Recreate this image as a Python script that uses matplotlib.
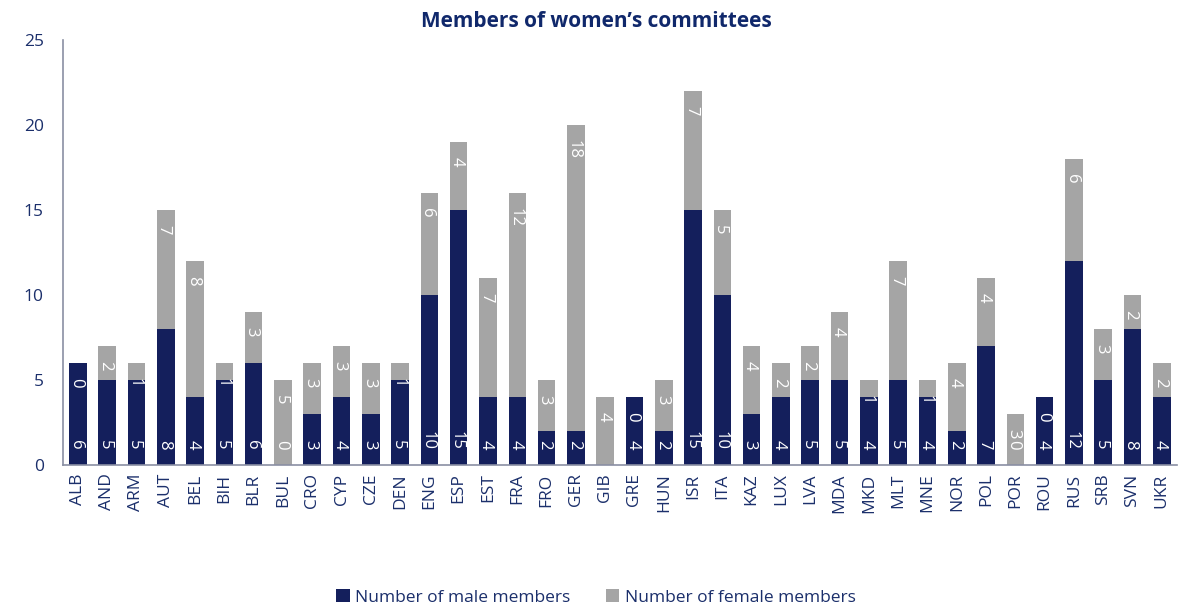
import matplotlib.pyplot as plt
import numpy as np

plt.rcParams["font.family"] = ["Open Sans", "DejaVu Sans"]

countries = [
    "ALB", "AND", "ARM", "AUT", "BEL", "BIH", "BLR", "BUL", "CRO", "CYP",
    "CZE", "DEN", "ENG", "ESP", "EST", "FRA", "FRO", "GER", "GIB", "GRE",
    "HUN", "ISR", "ITA", "KAZ", "LUX", "LVA", "MDA", "MKD", "MLT", "MNE",
    "NOR", "POL", "POR", "ROU", "RUS", "SRB", "SVN", "UKR",
]
# None = no figure reported
male_members = [
    6, 5, 5, 8, 4, 5, 6, 0, 3, 4,
    3, 5, 10, 15, 4, 4, 2, 2, None, 4,
    2, 15, 10, 3, 4, 5, 5, 4, 5, 4,
    2, 7, 0, 4, 12, 5, 8, 4,
]
female_members = [
    0, 2, 1, 7, 8, 1, 3, 5, 3, 3,
    3, 1, 6, 4, 7, 12, 3, 18, 4, 0,
    3, 7, 5, 4, 2, 2, 4, 1, 7, 1,
    4, 4, 3, 0, 6, 3, 2, 2,
]

MALE_COLOR = "#141f5c"
FEMALE_COLOR = "#a5a5a5"
TEXT_COLOR = "#1b2f6b"
AXIS_COLOR = "#8a8fa3"

male = np.array([0 if v is None else v for v in male_members], dtype=float)
female = np.array(female_members, dtype=float)
x = np.arange(len(countries))
width = 0.6

fig = plt.figure(figsize=(11.92, 6.08), dpi=100)
ax = fig.add_axes([0.053, 0.235, 0.934, 0.699])

bars_m = ax.bar(x, male, width, color=MALE_COLOR, label="Number of male members", zorder=2)
bars_f = ax.bar(x, female, width, bottom=male, color=FEMALE_COLOR,
                label="Number of female members", zorder=2)

label_kw = dict(rotation=270, rotation_mode="anchor", va="center_baseline",
                color="white", fontsize=12, zorder=3, textcoords="offset points")

# male values sit near the base of each bar, female values near the top of their segment
for xi, v in zip(x, male_members):
    if v is None:
        continue
    ax.annotate(str(v), (xi, 0), xytext=(0, 11), ha="right", **label_kw)
for xi, m, f in zip(x, male, female):
    ax.annotate(str(int(f)), (xi, m + f), xytext=(0, -11), ha="left", **label_kw)

ax.set_xlim(-0.5, len(countries) - 0.5)
ax.set_ylim(0, 25)
ax.set_yticks(range(0, 26, 5))
ax.set_xticks(x)
ax.set_xticklabels(countries, rotation=90)
ax.tick_params(axis="both", length=0, colors=TEXT_COLOR, labelsize=12.5)
ax.tick_params(axis="y", pad=14)
ax.tick_params(axis="x", pad=6)

for side in ("top", "right"):
    ax.spines[side].set_visible(False)
for side in ("left", "bottom"):
    ax.spines[side].set_color(AXIS_COLOR)
    ax.spines[side].set_linewidth(1.2)

fig.text(0.5, 0.965, "Members of women\u2019s committees", ha="center", va="center",
         fontsize=15, fontweight="bold", color="#10286b")

fig.legend(handles=[bars_m, bars_f], loc="center", bbox_to_anchor=(0.5, 0.017),
           ncol=2, frameon=False, fontsize=12.5, labelcolor=TEXT_COLOR,
           handlelength=0.75, handleheight=0.75, handletextpad=0.3, columnspacing=2.1)

fig.savefig("out.png", dpi=100)
